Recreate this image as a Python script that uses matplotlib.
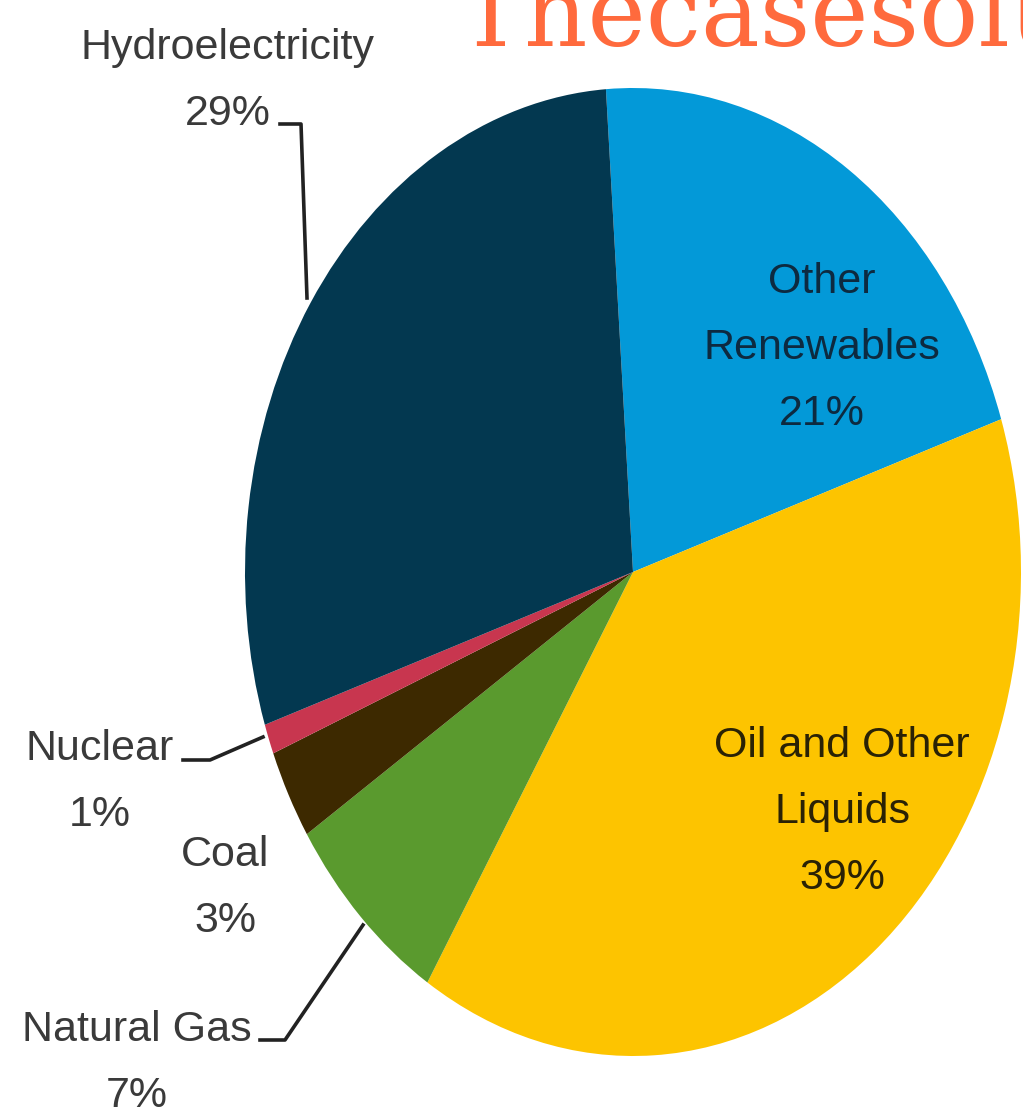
import matplotlib
matplotlib.use('Agg')
import matplotlib.pyplot as plt

# ---------------------------------------------------------------
# Datos (orden horario desde arriba)
# ---------------------------------------------------------------
fuentes = ['Other Renewables', 'Oil and Other Liquids', 'Natural Gas',
           'Coal', 'Nuclear', 'Hydroelectricity']
porcentajes = [21, 39, 7, 3, 1, 29]
colores = ['#0399d8', '#fdc400', '#5a9a2e', '#3d2900', '#c8364f', '#033850']

W, H = 1023, 1119
fig = plt.figure(figsize=(W / 100, H / 100), dpi=100)
fig.patch.set_facecolor('white')

# pie eliptico: ejes del tamano del bbox de la elipse
x0, x1, y0, y1 = 245, 1021, 88, 1056
ax = fig.add_axes([x0 / W, 1 - y1 / H, (x1 - x0) / W, (y1 - y0) / H])
ax.pie(porcentajes, colors=colores, startangle=94, counterclock=False,
       radius=1.0, wedgeprops=dict(linewidth=0))
ax.set_aspect('auto')
ax.set_xlim(-1, 1)
ax.set_ylim(-1, 1)
ax.axis('off')

# capa de textos en coordenadas de pixel
tx = fig.add_axes([0, 0, 1, 1])
tx.set_xlim(0, W)
tx.set_ylim(H, 0)
tx.axis('off')
tx.patch.set_alpha(0)

fam = ['Liberation Sans', 'DejaVu Sans']
gris = '#3a3a3a'
fs = 31

def etiqueta(x, y, s, color=gris, size=fs):
    tx.text(x, y, s, ha='center', va='center', fontsize=size, color=color,
            family=fam, linespacing=1.85)

etiqueta(228, 81, 'Hydroelectricity\n29%')
etiqueta(100, 782, 'Nuclear\n1%')
etiqueta(225, 888, 'Coal\n3%')
etiqueta(137, 1063, 'Natural Gas\n7%')
etiqueta(822, 348, 'Other\nRenewables\n21%', color='#0d2a40')
etiqueta(842, 812, 'Oil and Other\nLiquids\n39%', color='#2a2205')

# lineas guia
lw = 2.6
tx.plot([280, 301, 307], [124, 124, 298], color='#222222', lw=lw)
tx.plot([183, 210, 263], [760, 760, 737], color='#222222', lw=lw)
tx.plot([260, 285, 363], [1040, 1040, 925], color='#222222', lw=lw)

# marca de agua
tx.text(458, 46, 'Thecasesolutions.com', ha='left', va='baseline',
        fontsize=71, color='#ff6a3d', family='DejaVu Serif')

fig.savefig('out.png', dpi=100)
